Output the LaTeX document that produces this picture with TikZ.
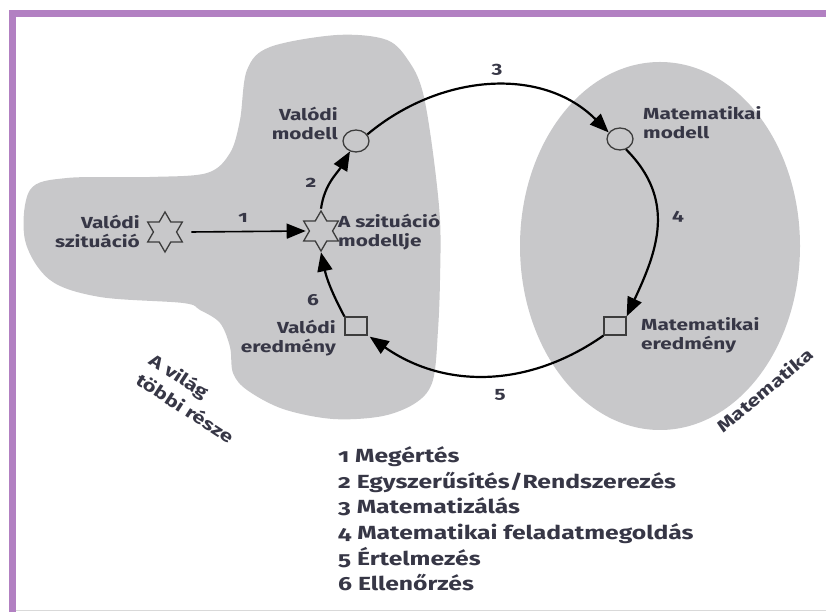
\documentclass[tikz,border=0pt]{standalone}
\usepackage{fontspec}
\usetikzlibrary{arrows.meta,shapes.geometric}
\newfontfamily\dfont[Numbers=OldStyle,FakeStretch=1.3]{Fira Sans}
\definecolor{framepurple}{RGB}{178,128,194}
\definecolor{blobgray}{RGB}{200,200,202}
\definecolor{txt}{RGB}{55,55,70}
\definecolor{shapeline}{RGB}{60,60,60}
\begin{document}
\begin{tikzpicture}[x=1pt,y=1pt,
  lbl/.style={font=\dfont\bfseries\fontsize{16}{19}\selectfont, text=txt, inner sep=0pt},
  num/.style={font=\dfont\bfseries\fontsize{16}{19}\selectfont, text=txt, inner sep=0pt},
  legend/.style={font=\dfont\bfseries\fontsize{19}{24}\selectfont, text=txt, inner sep=0pt, anchor=base west},
  starnode/.style={star, star points=6, star point ratio=1.73, minimum size=40pt, inner sep=0pt, draw=shapeline, line width=1.3pt},
  circnode/.style={ellipse, minimum width=26pt, minimum height=22pt, inner sep=0pt, draw=shapeline, line width=1.3pt},
  sqnode/.style={rectangle, minimum width=22pt, minimum height=18pt, inner sep=0pt, draw=shapeline, line width=1.3pt},
  cyc/.style={line width=2.2pt, -{Triangle[length=19pt,width=15pt]}},
  straight/.style={line width=1.6pt, -{Triangle[length=19pt,width=15pt]}},
]
\useasboundingbox (0,0) rectangle (826,612);
% frame
\draw[framepurple, line width=7pt] (12.5,-10) -- (12.5,598.5) -- (840,598.5);
\draw[black!15, line width=0.8pt] (16,1.5) -- (826,1.5);
% regions
\fill[blobgray] plot[smooth cycle, tension=0.55] coordinates {
 (30,422) (67,434) (150,435) (207,439) (230,459) (240,492) (247,542) (270,565)
 (337,577) (387,572) (410,549) (423,519) (433,459) (440,392) (440,332) (438,282)
 (433,232) (417,210) (383,196) (333,193) (283,203) (247,222) (233,239) (230,265)
 (220,289) (200,302) (183,309) (100,315) (50,332) (25,372)};
\fill[blobgray] (660,366) ellipse[x radius=140, y radius=184];
% nodes
\node[starnode] (s1) at (165,380) {};
\node[starnode] (s2) at (321,381) {};
\node[circnode] (c1) at (356,471) {};
\node[circnode] (c2) at (620,473) {};
\node[sqnode] (q2) at (615,286) {};
\node[sqnode] (q1) at (356,286) {};
% labels
\node[lbl, align=right, anchor=east] (l1) at (140,381) {Valódi\\szituáció};
\node[lbl, align=left, anchor=west] (l2) at (338,380) {A szituáció\\modellje};
\node[lbl, align=right, anchor=east] (l3) at (338,489) {Valódi\\modell};
\node[lbl, align=left, anchor=west] (l4) at (643,489) {Matematikai\\modell};
\node[lbl, align=left, anchor=west] (l5) at (641,277) {Matematikai\\eredmény};
\node[lbl, align=right, anchor=east] (l6) at (336,274) {Valódi\\eredmény};
% connectors
\draw[straight] ([xshift=14pt]s1.east) -- ([xshift=-3pt]s2.west);
\draw[cyc] ([yshift=1pt]s2.north) to[out=82,in=-120] (c1.240);
\draw[cyc] (c1.30) to[out=40,in=135] (c2.150);
\draw[cyc] (c2.-60) to[out=-45,in=65,looseness=1.1] (q2.north east);
\draw[cyc] (q2.south west) to[out=-145,in=-35] ([xshift=2pt,yshift=-1pt]q1.south east);
\draw[cyc] (q1.north west) to[out=118,in=-78] (s2.south);
% numbers
\node[num] (n1) at (243,394) {1};
\node[num] (n2) at (311,429) {2};
\node[num] (n3) at (497,542) {3};
\node[num] (n4) at (678,395) {4};
\node[num] (n5) at (500,217) {5};
\node[num] (n6) at (313,312) {6};
% rotated region names
\node[lbl, align=left, rotate=-33, font=\dfont\bfseries\fontsize{17}{24}\selectfont] (w) at (192,214) {A világ\\többi része};
\node[lbl, rotate=40, font=\dfont\bfseries\fontsize{17}{22}\selectfont] (m) at (765,222) {Matematika};
% legend
\node[legend] (g1) at (338,149) {1 Megértés};
\node[legend] (g2) at (338,123) {2 Egyszerűsítés/Rendszerezés};
\node[legend] (g3) at (338,98) {3 Matematizálás};
\node[legend] (g4) at (338,72) {4 Matematikai feladatmegoldás};
\node[legend] (g5) at (338,46) {5 Értelmezés};
\node[legend] (g6) at (338,21) {6 Ellenőrzés};
\end{tikzpicture}
\end{document}
